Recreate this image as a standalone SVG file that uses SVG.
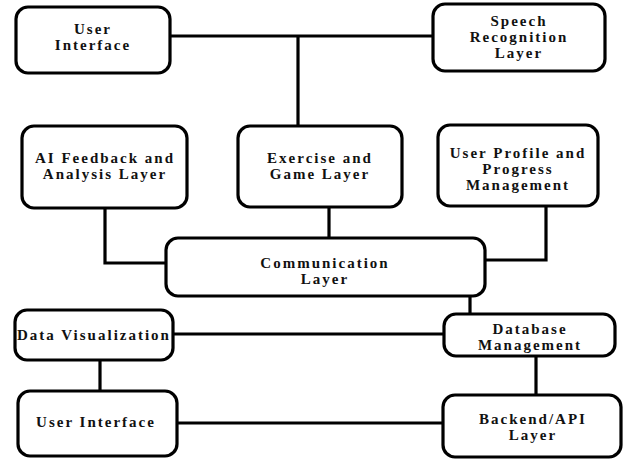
<svg xmlns="http://www.w3.org/2000/svg" width="623" height="461" viewBox="0 0 623 461">
<style>
.box{fill:#fff;stroke:#000;stroke-width:3.2}
.t{font-family:"Liberation Serif","Times New Roman",serif;font-weight:bold;font-size:15px;letter-spacing:2px;text-anchor:middle;fill:#111}
.c{fill:none;stroke:#000;stroke-width:3.2}
</style>
<rect width="623" height="461" fill="#fff"/>
<g id="connectors">
<path class="c" d="M170 36H433"/>
<path class="c" d="M298 36V126"/>
<path class="c" d="M105 208V263H166"/>
<path class="c" d="M329 207V238"/>
<path class="c" d="M546 206V260H485"/>
<path class="c" d="M470 296V314"/>
<path class="c" d="M173 334H444"/>
<path class="c" d="M100 360V391"/>
<path class="c" d="M177 423H443"/>
<path class="c" d="M536 356V395"/>
</g>
<g id="ui-top"><rect class="box" x="16" y="7" width="154" height="66" rx="12"/>
<text class="t" x="93" y="34">User</text><text class="t" x="93" y="50">Interface</text></g>
<g id="speech"><rect class="box" x="433" y="4" width="172" height="67" rx="12"/>
<text class="t" x="519" y="26">Speech</text><text class="t" x="519" y="42">Recognition</text><text class="t" x="519" y="58">Layer</text></g>
<g id="ai"><rect class="box" x="22" y="126" width="165" height="82" rx="12"/>
<text class="t" x="105" y="163">AI Feedback and</text><text class="t" x="105" y="179">Analysis Layer</text></g>
<g id="exercise"><rect class="box" x="238" y="126" width="164" height="81" rx="12"/>
<text class="t" x="320" y="163">Exercise and</text><text class="t" x="320" y="179">Game Layer</text></g>
<g id="profile"><rect class="box" x="438" y="125" width="160" height="81" rx="12"/>
<text class="t" x="518" y="158">User Profile and</text><text class="t" x="518" y="174">Progress</text><text class="t" x="518" y="190">Management</text></g>
<g id="comm"><rect class="box" x="166" y="238" width="319" height="58" rx="12"/>
<text class="t" x="325" y="268">Communication</text><text class="t" x="325" y="284">Layer</text></g>
<g id="database"><rect class="box" x="444" y="314" width="171" height="42" rx="12"/>
<text class="t" x="530" y="334">Database</text><text class="t" x="530" y="350">Management</text></g>
<g id="dataviz"><rect class="box" x="15" y="310" width="158" height="50" rx="12"/>
<text class="t" x="94" y="340">Data Visualization</text></g>
<g id="ui-bottom"><rect class="box" x="18" y="391" width="159" height="65" rx="12"/>
<text class="t" x="96" y="427">User Interface</text></g>
<g id="backend"><rect class="box" x="443" y="395" width="178" height="62" rx="12"/>
<text class="t" x="533" y="424">Backend/API</text><text class="t" x="533" y="440">Layer</text></g>
</svg>
